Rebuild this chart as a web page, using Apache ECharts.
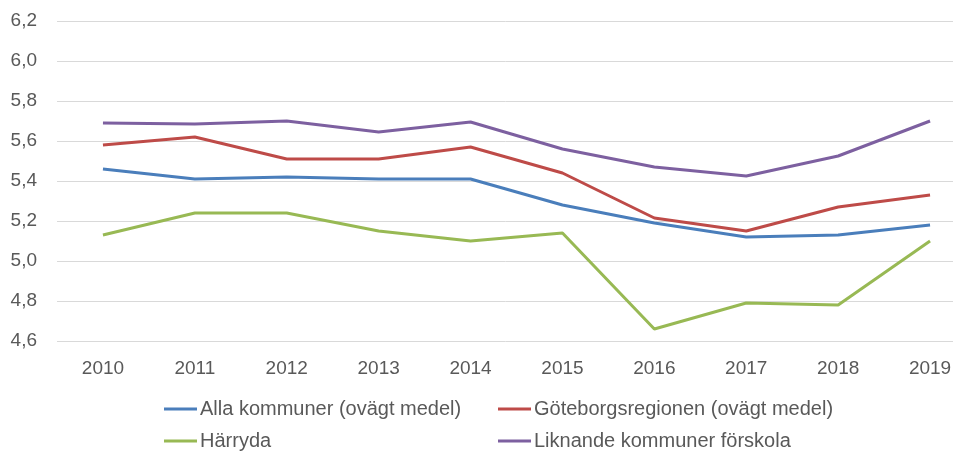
<!DOCTYPE html>
<html>
<head>
<meta charset="utf-8">
<script src="https://cdn.jsdelivr.net/npm/echarts@6/dist/echarts.min.js"></script>
<style>
  html, body { margin: 0; padding: 0; background: #fff; }
  #chart { width: 953px; height: 452px; }
</style>
</head>
<body>
<div id="chart"></div>
<script>
var years = ['2010', '2011', '2012', '2013', '2014', '2015', '2016', '2017', '2018', '2019']
var allaKommuner = [5.46, 5.41, 5.42, 5.41, 5.41, 5.28, 5.19, 5.12, 5.13, 5.18]
var goteborgsregionen = [5.58, 5.62, 5.51, 5.51, 5.57, 5.44, 5.215, 5.15, 5.27, 5.33]
var harryda = [5.13, 5.24, 5.24, 5.15, 5.10, 5.14, 4.66, 4.79, 4.78, 5.10]
var liknande = [5.69, 5.685, 5.70, 5.645, 5.695, 5.56, 5.47, 5.425, 5.525, 5.70]

var names = [
  'Alla kommuner (ovägt medel)',
  'Göteborgsregionen (ovägt medel)',
  'Härryda',
  'Liknande kommuner förskola'
]
var color = ['#4a7ebb', '#be4b48', '#98b954', '#7d60a0']

var font = "'Liberation Sans', Arial, sans-serif"
var textColor = '#595959'

function makeLegend (name, left, top) {
  return {
    data: [name],
    left: left,
    top: top,
    padding: 0,
    icon: 'rect',
    itemWidth: 33,
    itemHeight: 3,
    itemGap: 0,
    selectedMode: false,
    textStyle: {
      color: textColor,
      fontSize: 20,
      fontFamily: font,
      padding: [0, 0, 0, -2],
      lineHeight: 20
    }
  }
}

function makeLine (i, values) {
  return {
    name: names[i],
    type: 'line',
    data: values,
    symbol: 'none',
    color: color[i],
    lineStyle: { width: 3, color: color[i] }
  }
}

var myChart = echarts.init(document.getElementById('chart'))
var option = {
  backgroundColor: '#FFFFFF',
  animation: false,
  // plot runs past the right edge in the original, so no clamping
  grid: { left: 57, top: 21, width: 919, height: 320, outerBoundsMode: 'none', containLabel: false },
  legend: [
    makeLegend(names[0], 164, 399),
    makeLegend(names[1], 498, 399),
    makeLegend(names[2], 164, 431),
    makeLegend(names[3], 498, 431)
  ],
  xAxis: {
    type: 'category',
    data: years,
    boundaryGap: true,
    axisLine: { show: false },
    axisTick: { show: false },
    axisLabel: {
      color: textColor,
      fontSize: 19,
      fontFamily: font,
      margin: 18
    }
  },
  yAxis: {
    type: 'value',
    min: 4.6,
    max: 6.2,
    interval: 0.2,
    axisLine: { show: false },
    axisTick: { show: false },
    splitLine: { lineStyle: { color: '#d9d9d9', width: 1 } },
    axisLabel: {
      color: textColor,
      fontSize: 19,
      fontFamily: font,
      margin: 20,
      formatter: function (v) {
        return v.toFixed(1).replace('.', ',')
      }
    }
  },
  series: [
    makeLine(0, allaKommuner),
    makeLine(1, goteborgsregionen),
    makeLine(2, harryda),
    makeLine(3, liknande)
  ]
}
myChart.setOption(option)
</script>
</body>
</html>
